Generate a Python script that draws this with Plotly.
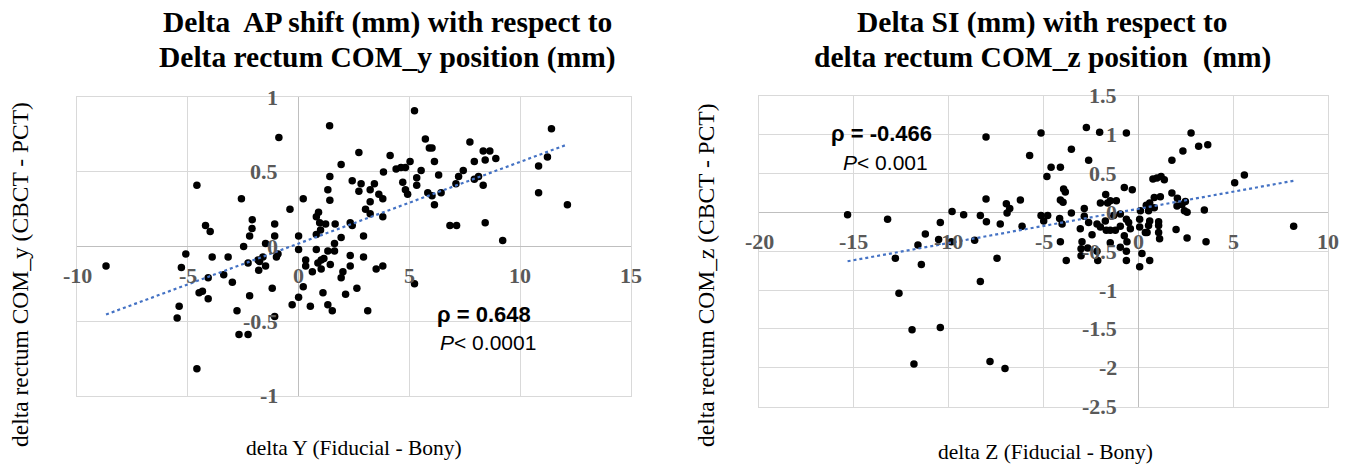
import numpy as np
import plotly.graph_objects as go

W, H = 1349, 468

# ---------------- data: left chart ----------------
left_x = [1.40, -0.89, 1.92, 1.41, -4.59, 1.32, -2.58, 0.21, 1.41, -0.39, 0.90, 0.80, -2.09, -4.20,
          -1.08, 0.95, 1.22, 1.65, -3.99, -2.10, -2.21, -1.08, 0.00, 0.80, 0.99, 1.92, 1.62, -1.49,
          -2.48, 0.00, 0.80, 1.32, 1.62, -5.09, -3.90, -3.18, -1.00, -0.93, -1.61, -1.83, -2.28,
          -1.76, -1.49, 0.32, 1.02, 1.14, 1.43, 0.87, -5.29, -1.80, 0.32, 0.62, 1.02, 2.00, -3.38,
          -4.08, 1.92, -2.99, 0.21, -4.49, -4.34, -1.19, -4.08, -2.21, 0.00, 1.10, 2.12, -5.39,
          -0.29, 0.53, 1.32, 1.52, -5.48, -2.78, -1.08, -2.69, -2.28, -4.59, -8.69,
          5.23, 11.41, 2.72, 5.72, 7.73, 5.90, 6.02, 8.33, 8.63, 4.13, 8.90, 11.23, 8.42, 7.93,
          6.13, 5.03, 4.40, 4.62, 4.82, 10.83, 3.83, 5.53, 7.43, 6.32, 7.22, 7.93, 8.12, 2.42,
          5.33, 5.33, 4.70, 2.82, 3.42, 7.10, 8.33, 2.72, 3.23, 4.82, 4.92, 5.83, 6.02, 6.43,
          3.62, 3.80, 10.83, 3.23, 6.13, 12.13, 3.02, 3.23, 3.80, 2.33, 2.42, 8.42, 6.83, 7.13,
          2.93, 9.21, 2.33, 2.93, 2.33, 3.50, 3.80, 5.23, 2.63, 3.12]
left_y = [0.81, 0.73, 0.55, 0.47, 0.41, 0.38, 0.32, 0.32, 0.31, 0.25, 0.23, 0.20, 0.18, 0.14,
          0.15, 0.16, 0.15, 0.15, 0.10, 0.12, 0.07, 0.07, 0.07, 0.08, 0.11, 0.06, 0.02, 0.02,
          0.00, -0.02, -0.02, -0.03, -0.03, -0.05, -0.07, -0.07, -0.07, -0.05, -0.07, -0.09, -0.11,
          -0.10, -0.13, -0.09, -0.09, -0.08, -0.12, -0.11, -0.14, -0.16, -0.13, -0.17, -0.15, -0.17, -0.19,
          -0.21, -0.21, -0.24, -0.27, -0.31, -0.30, -0.28, -0.35, -0.33, -0.34, -0.31, -0.32, -0.40,
          -0.39, -0.40, -0.39, -0.43, -0.48, -0.43, -0.47, -0.59, -0.59, -0.82, -0.13,
          0.91, 0.79, 0.63, 0.72, 0.70, 0.66, 0.66, 0.64, 0.64, 0.61, 0.59, 0.60, 0.58, 0.57,
          0.57, 0.57, 0.52, 0.53, 0.53, 0.54, 0.50, 0.51, 0.51, 0.48, 0.47, 0.45, 0.47, 0.44,
          0.46, 0.41, 0.43, 0.42, 0.42, 0.42, 0.41, 0.37, 0.38, 0.38, 0.35, 0.36, 0.34, 0.36,
          0.35, 0.32, 0.36, 0.30, 0.28, 0.28, 0.25, 0.22, 0.20, 0.16, 0.14, 0.16, 0.14, 0.14,
          0.07, 0.04, -0.06, -0.07, -0.13, -0.15, -0.13, -0.25, -0.28, -0.43]

# ---------------- data: right chart ----------------
right_x = [-15.33, -13.22, -8.03, -8.03, -6.92, -9.82, -9.21, -8.33, -8.01, -10.44, -11.23, -10.53,
           -11.62, -9.86, -8.63, -12.81, -11.44, -7.45, -8.33, -12.62, -11.93, -10.44, -11.83, -7.82, -7.03,
           -5.13, -2.74, -2.04, -0.63, -5.73, -3.53, -2.62, -4.60, -4.11, -4.82, -3.94, -3.85, -4.11,
           -3.97, -1.72, -0.74, -0.32, -6.96, -6.78, -6.22, -7.28, -6.13, -5.13, -4.78, -4.99, -4.15,
           -4.02, -3.53, -2.85, -2.00, -1.62, -1.16, -1.48, -2.85, -3.06, -2.62, -2.18, -2.00, -1.69,
           -1.48, -1.21, -1.74, -1.30, -0.95, -0.63, -0.51, -0.95, -0.42, 0.07, 0.07, -2.44, -4.11,
           -2.97, -3.02, -2.67, -2.18, -1.48, -0.74, -0.60, -0.95, -0.63, -3.02, -3.80, -2.14, -0.63,
           0.07, 0.19, 0.60,
           2.78, 2.35, 3.18, 3.66, 1.77, 0.77, 0.98, 1.20, 1.37, 5.08, 5.59, 1.77, 0.84, 1.16, 2.06,
           2.48, 2.30, 2.04, 2.57, 2.43, 3.48, 0.60, 0.42, 0.54, 0.11, 0.84, 1.07, 0.60, 0.54, 1.07,
           1.07, 1.12, 1.99, 2.57, 3.57, 8.19, 0.46, 0.37]
right_y = [-0.03, -0.09, 0.97, 0.17, -0.01, 0.01, -0.03, -0.04, -0.12, -0.13, -0.28, -0.35,
           -0.42, -0.38, -0.36, -0.59, -0.67, -0.59, -0.89, -1.04, -1.51, -1.48, -1.95, -1.92, -2.01,
           1.02, 1.09, 1.03, 1.02, 0.73, 0.81, 0.67, 0.58, 0.58, 0.46, 0.30, 0.26, 0.16,
           0.13, 0.23, 0.32, 0.29, 0.11, 0.05, 0.16, -0.15, -0.18, -0.04, -0.04, -0.11, -0.08,
           -0.15, -0.01, 0.05, 0.12, 0.12, 0.15, 0.15, -0.05, -0.21, -0.13, -0.15, -0.19, -0.23,
           -0.23, -0.23, -0.11, -0.04, -0.02, -0.09, -0.13, -0.18, -0.21, -0.09, -0.19, -0.29, -0.38,
           -0.38, -0.47, -0.46, -0.50, -0.39, -0.30, -0.38, -0.45, -0.50, -0.56, -0.62, -0.62, -0.62,
           -0.70, -0.53, -0.62,
           1.02, 0.79, 0.85, 0.87, 0.67, 0.43, 0.44, 0.46, 0.42, 0.38, 0.48, 0.25, 0.19, 0.20, 0.18,
           0.14, 0.10, 0.08, 0.00, 0.02, 0.03, 0.12, 0.09, 0.02, 0.02, 0.06, -0.12, -0.11, -0.17, -0.17,
           -0.26, -0.34, -0.22, -0.33, -0.38, -0.18, -0.26, -0.26]

# ---------------- ticks / texts ----------------
left_xticks = [-10, -5, 0, 5, 10, 15]
left_yticks = [-1, -0.5, 0, 0.5, 1]
right_xticks = [-20, -15, -10, -5, 0, 5, 10]
right_yticks = [-2.5, -2, -1.5, -1, -0.5, 0, 0.5, 1, 1.5]

left_title = ["Delta\u00a0 AP shift (mm) with respect to", "Delta rectum COM_y position (mm)"]
right_title = ["Delta SI (mm) with respect to", "delta rectum COM_z position\u00a0 (mm)"]
left_xtitle, left_ytitle = "delta Y (Fiducial - Bony)", "delta rectum COM_y (CBCT - PCT)"
right_xtitle, right_ytitle = "delta Z (Fiducial - Bony)", "delta rectum COM_z (CBCT - PCT)"
left_stats = ["ρ = 0.648", "P", "< 0.0001"]
right_stats = ["ρ = -0.466", "P", "< 0.001"]


def fx(px):
    return px / W


def fy(py):
    return 1 - py / H


SERIF = "Liberation Serif"
SANS = "Liberation Sans"
TICK_COLOR = "#595959"
GRID = "#d9d9d9"

fig = go.Figure()


def add_panel(xs, ys, xa, ya):
    fig.add_trace(go.Scatter(x=xs, y=ys, mode="markers", xaxis=xa, yaxis=ya,
                             marker=dict(color="black", size=7.5), showlegend=False,
                             hoverinfo="x+y"))
    coef = np.polyfit(xs, ys, 1)
    tx = np.array([min(xs), max(xs)])
    fig.add_trace(go.Scatter(x=tx, y=np.polyval(coef, tx), mode="lines", xaxis=xa, yaxis=ya,
                             line=dict(color="#4472C4", width=2.2, dash="dot"),
                             showlegend=False, hoverinfo="skip"))


add_panel(left_x, left_y, "x", "y")
add_panel(right_x, right_y, "x2", "y2")

axis_common = dict(showgrid=True, gridcolor=GRID, gridwidth=1.3, zeroline=True,
                   zerolinecolor="#bfbfbf", zerolinewidth=1.3, showticklabels=False,
                   showline=True, linecolor=GRID, linewidth=1.3, mirror=True, ticks="",
                   fixedrange=True)

fig.update_layout(
    width=W, height=H, margin=dict(l=0, r=0, t=0, b=0),
    paper_bgcolor="white", plot_bgcolor="white",
    xaxis=dict(domain=[fx(77), fx(631)], range=[-10, 15], tickvals=left_xticks, anchor="y", **axis_common),
    yaxis=dict(domain=[fy(395.7), fy(97.3)], range=[-1, 1], tickvals=left_yticks, anchor="x", **axis_common),
    xaxis2=dict(domain=[fx(759), fx(1328)], range=[-20, 10], tickvals=right_xticks, anchor="y2", **axis_common),
    yaxis2=dict(domain=[fy(406.7), fy(95.7)], range=[-2.5, 1.5], tickvals=right_yticks, anchor="x2", **axis_common),
)

ann = []
tick_font = dict(family=SERIF, size=22, color=TICK_COLOR)


def tick_labels(xticks, yticks, xr, yr):
    for t in xticks:
        ann.append(dict(x=t, y=0, xref=xr, yref=yr, text="<b>%g</b>" % t, showarrow=False,
                        xanchor="center", yanchor="middle", yshift=-29, font=tick_font))
    for t in yticks:
        ann.append(dict(x=0, y=t, xref=xr, yref=yr, text="<b>%g</b>" % t, showarrow=False,
                        xanchor="right", yanchor="middle", xshift=-19, font=tick_font))


tick_labels(left_xticks, left_yticks, "x", "y")
tick_labels(right_xticks, right_yticks, "x2", "y2")

title_font = dict(family=SERIF, size=29.5, color="black")
for cx, lines in ((387, left_title), (1042, right_title)):
    for py, line in zip((22, 57), lines):
        ann.append(dict(x=fx(cx), y=fy(py), xref="paper", yref="paper", text="<b>%s</b>" % line,
                        showarrow=False, xanchor="center", yanchor="middle", font=title_font))

xt_font = dict(family=SERIF, size=21.5, color="black")
yt_font = dict(family=SERIF, size=23.5, color="black")
ann.append(dict(x=fx(354), y=fy(448), xref="paper", yref="paper", text=left_xtitle, showarrow=False,
                xanchor="center", yanchor="middle", font=xt_font))
ann.append(dict(x=fx(1045), y=fy(452), xref="paper", yref="paper", text=right_xtitle, showarrow=False,
                xanchor="center", yanchor="middle", font=xt_font))
ann.append(dict(x=fx(20), y=fy(275), xref="paper", yref="paper", text=left_ytitle, showarrow=False,
                xanchor="center", yanchor="middle", textangle=-90, font=yt_font))
ann.append(dict(x=fx(706), y=fy(275), xref="paper", yref="paper", text=right_ytitle, showarrow=False,
                xanchor="center", yanchor="middle", textangle=-90, font=yt_font))

rho_font = dict(family=SANS, size=22, color="black")
p_font = dict(family=SANS, size=21, color="black")
for (lx, lx2, ly1, ly2), st in (((435, 438, 314, 342), left_stats), ((829, 841, 133, 162), right_stats)):
    ann.append(dict(x=fx(lx), y=fy(ly1), xref="paper", yref="paper", text="<b>%s</b>" % st[0],
                    showarrow=False, xanchor="left", yanchor="middle", font=rho_font))
    ann.append(dict(x=fx(lx2), y=fy(ly2), xref="paper", yref="paper",
                    text="<i>%s</i>%s" % (st[1], st[2].replace("<", "&lt;")),
                    showarrow=False, xanchor="left", yanchor="middle", font=p_font))

fig.update_layout(annotations=ann)

fig.write_html("out.html", config={"displayModeBar": False},
               post_script="document.body.style.margin='0px';document.body.style.overflow='hidden';")
